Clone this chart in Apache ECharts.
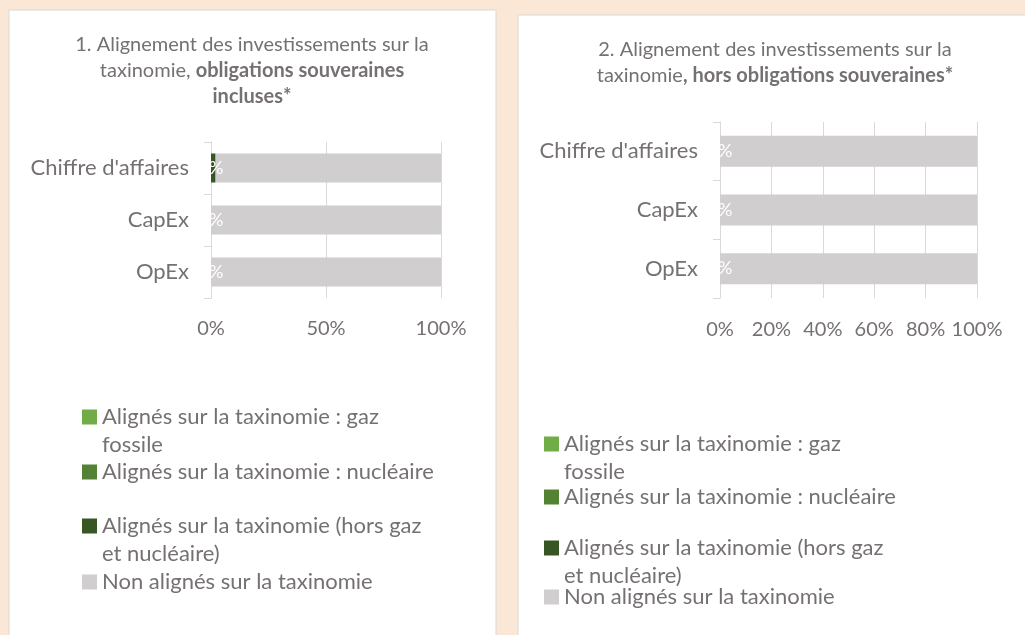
<!DOCTYPE html>
<html>
<head>
<meta charset="utf-8">
<script src="https://cdn.jsdelivr.net/npm/echarts@6/dist/echarts.min.js"></script>
<style>
  html, body { margin: 0; padding: 0; background: #fbe7d6; }
  #chart { width: 1025px; height: 635px; }
</style>
</head>
<body>
<div id="chart"></div>
<script>
const categories = ["Chiffre d'affaires", "CapEx", "OpEx"];
const seriesNames = [
  "Alignés sur la taxinomie : gaz fossile",
  "Alignés sur la taxinomie : nucléaire",
  "Alignés sur la taxinomie (hors gaz et nucléaire)",
  "Non alignés sur la taxinomie"
];
const legendLabels = [
  "Alignés sur la taxinomie : gaz\nfossile",
  "Alignés sur la taxinomie : nucléaire",
  "Alignés sur la taxinomie (hors gaz\net nucléaire)",
  "Non alignés sur la taxinomie"
];
const colors = ["#70ad47", "#548235", "#375623", "#d0cece"];

// 1. obligations souveraines incluses
const gas1 = [0, 0, 0];
const nuclear1 = [0, 0, 0];
const aligned1 = [2, 0, 0];
const notAligned1 = [98, 100, 100];
// 2. hors obligations souveraines
const gas2 = [0, 0, 0];
const nuclear2 = [0, 0, 0];
const aligned2 = [0, 0, 0];
const notAligned2 = [100, 100, 100];

const ticks1 = [0, 50, 100];
const ticks2 = [0, 20, 40, 60, 80, 100];

const font = "Lato";
const textColor = "#767171";
const gridColor = "#d9d9d9";

let chart = echarts.init(document.getElementById("chart"));

let makeXAxis = (idx, ticks, margin) => ({
  type: "value",
  gridIndex: idx,
  min: ticks[0],
  max: ticks[ticks.length - 1],
  interval: ticks[1] - ticks[0],
  axisLine: { show: false },
  axisTick: { show: false },
  splitLine: { lineStyle: { color: gridColor, width: 1 } },
  axisLabel: {
    formatter: "{value}%",
    color: textColor,
    fontFamily: font,
    fontSize: 20,
    margin: margin,
  },
});

let makeYAxis = (idx) => ({
  type: "category",
  gridIndex: idx,
  inverse: true,
  data: categories,
  axisLine: { lineStyle: { color: gridColor, width: 1 } },
  axisTick: { show: true, length: 7, lineStyle: { color: gridColor } },
  axisLabel: { color: textColor, fontFamily: font, fontSize: 22, margin: 22 },
});

let makeSeries = (idx, data, barWidth) => {
  return data.map((values, i) => ({
    name: seriesNames[i],
    type: "bar",
    stack: "s" + idx,
    xAxisIndex: idx,
    yAxisIndex: idx,
    barWidth: barWidth,
    color: colors[i],
    data: values,
    label: {
      show: i === 0,
      position: "inside",
      formatter: "{c}%",
      color: "#ffffff",
      fontFamily: font,
      fontSize: 18,
    },
    emphasis: { disabled: true },
  }));
};

// one legend per item so the spacing follows the original layout;
// a leading blank line keeps the icon level with the first text line
let makeLegends = (left, centers) => {
  const lh = 28;
  return seriesNames.map((name, i) => {
    const twoLines = legendLabels[i].indexOf("\n") >= 0;
    return {
      data: [name],
      left: left,
      top: twoLines ? centers[i] - 1.5 * lh : centers[i] - lh / 2,
      padding: 0,
      icon: "rect",
      itemWidth: 15,
      itemHeight: 15,
      itemGap: 5,
      selectedMode: false,
      formatter: () => (twoLines ? "\n" : "") + legendLabels[i],
      textStyle: {
        color: textColor,
        fontFamily: font,
        fontSize: 22,
        lineHeight: lh,
      },
    };
  });
};

let titleStyle = {
  color: textColor,
  fontFamily: font,
  fontSize: 20,
  fontWeight: "normal",
  lineHeight: 26,
  rich: {
    b: { color: textColor, fontFamily: font, fontSize: 20, fontWeight: "bold", lineHeight: 26 },
  },
};

let option = {
  backgroundColor: "#fbe7d6",
  animation: false,
  graphic: [
    { type: "rect", shape: { x: 9, y: 10, width: 487, height: 640 }, style: { fill: "#ffffff", stroke: gridColor, lineWidth: 1 }, z: -10 },
    { type: "rect", shape: { x: 518, y: 15, width: 520, height: 640 }, style: { fill: "#ffffff", stroke: gridColor, lineWidth: 1 }, z: -10 },
  ],
  title: [
    {
      text: "1. Alignement des investissements sur la\ntaxinomie, {b|obligations souveraines}\n{b|incluses*}",
      left: 252,
      top: 32,
      textAlign: "center",
      padding: 0,
      textStyle: titleStyle,
    },
    {
      text: "2. Alignement des investissements sur la\ntaxinomie{b|, hors obligations souveraines*}",
      left: 775,
      top: 37,
      textAlign: "center",
      padding: 0,
      textStyle: titleStyle,
    },
  ],
  legend: makeLegends(82, [417, 472, 526, 582]).concat(makeLegends(544, [444, 497, 548, 597])),
  grid: [
    { left: 211, top: 142, width: 230, height: 156 },
    { left: 720, top: 122, width: 257, height: 176 },
  ],
  xAxis: [makeXAxis(0, ticks1, 21), makeXAxis(1, ticks2, 22)],
  yAxis: [makeYAxis(0), makeYAxis(1)],
  series: makeSeries(0, [gas1, nuclear1, aligned1, notAligned1], 29).concat(
    makeSeries(1, [gas2, nuclear2, aligned2, notAligned2], 31)
  ),
};
chart.setOption(option);
</script>
</body>
</html>
